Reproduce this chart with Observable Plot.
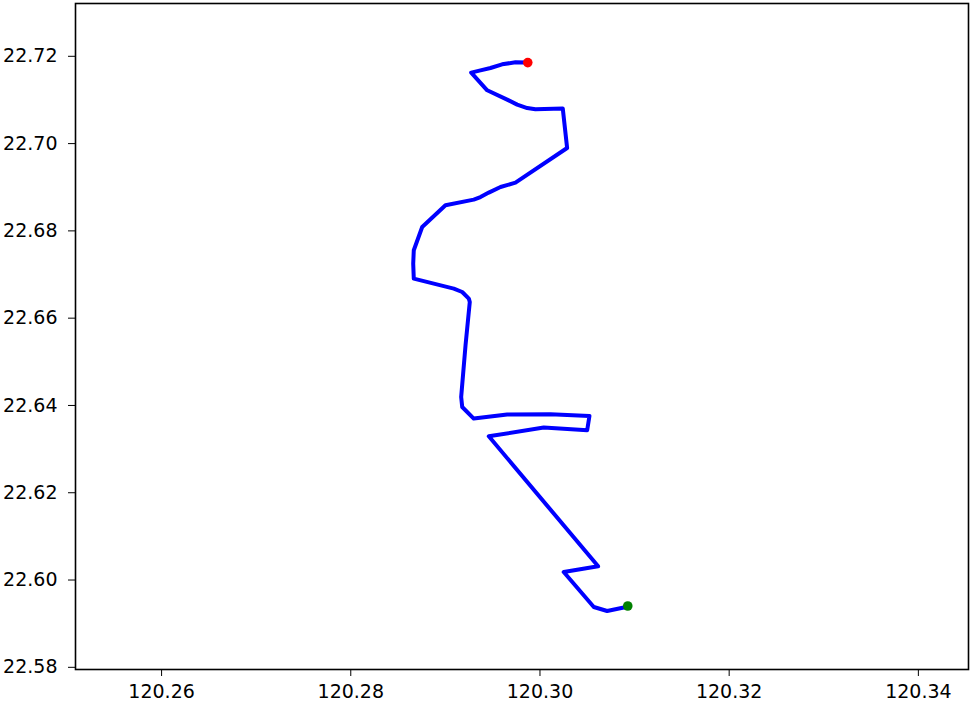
<!DOCTYPE html>
<html><head><meta charset="utf-8">
<script src="https://cdn.jsdelivr.net/npm/d3@7"></script>
<script src="https://cdn.jsdelivr.net/npm/@observablehq/plot@0.6"></script>
<style>body{margin:0;background:#fff}</style>
</head><body><div id="chart"></div>
<script>
// Route (longitude, latitude), from start (green) to end (red)
const lon = [120.30928,120.30886,120.3071,120.30569,120.30251,120.30615,120.29459,120.3004,120.30499,120.30523,120.30111,120.29653,120.293,120.29178,120.29167,120.29213,120.29258,120.29248,120.29178,120.29089,120.28666,120.2866,120.28666,120.28755,120.29001,120.293,120.29371,120.29459,120.29583,120.29741,120.30287,120.30241,120.29952,120.29865,120.29759,120.29653,120.29442,120.29273,120.29371,120.29477,120.296,120.29741,120.29871];
const lat = [22.59405,22.59369,22.59291,22.59382,22.60184,22.60315,22.63293,22.63493,22.63431,22.63759,22.63797,22.63791,22.63699,22.63965,22.64194,22.65378,22.6637,22.66448,22.666,22.66678,22.66907,22.6725,22.67555,22.68089,22.68586,22.68717,22.68776,22.68877,22.69005,22.69106,22.69899,22.70802,22.70786,22.70815,22.70893,22.71008,22.71221,22.71627,22.71679,22.71732,22.71817,22.71863,22.71856];
const xTicks = [120.26,120.28,120.30,120.32,120.34];
const yTicks = [22.58,22.60,22.62,22.64,22.66,22.68,22.70,22.72];

const route = lon.map((x,i)=>({x, y: lat[i]}));
const start = [route[0]];
const end = [route[route.length-1]];

const chart = Plot.plot({
  width: 971, height: 705,
  marginLeft: 75, marginRight: 3, marginTop: 3, marginBottom: 36,
  style: {fontFamily: "DejaVu Sans", fontSize: "19px", color: "#000", background: "#fff"},
  x: {domain: [120.2509, 120.3453], ticks: xTicks, tickFormat: d3.format(".2f"), tickSize: 7, tickPadding: 8, label: null},
  y: {domain: [22.5795, 22.7321], ticks: yTicks, tickFormat: d3.format(".2f"), tickSize: 7, tickPadding: 11, label: null},
  marks: [
    Plot.line(route, {x: "x", y: "y", stroke: "#0000ff", strokeWidth: 4, strokeLinejoin: "round", curve: "linear"}),
    Plot.dot(start, {x: "x", y: "y", fill: "green", r: 4.8}),
    Plot.dot(end, {x: "x", y: "y", fill: "red", r: 4.8}),
    Plot.frame({stroke: "#000", strokeWidth: 1.6})
  ]
});
document.getElementById("chart").append(chart);
</script>
</body></html>
